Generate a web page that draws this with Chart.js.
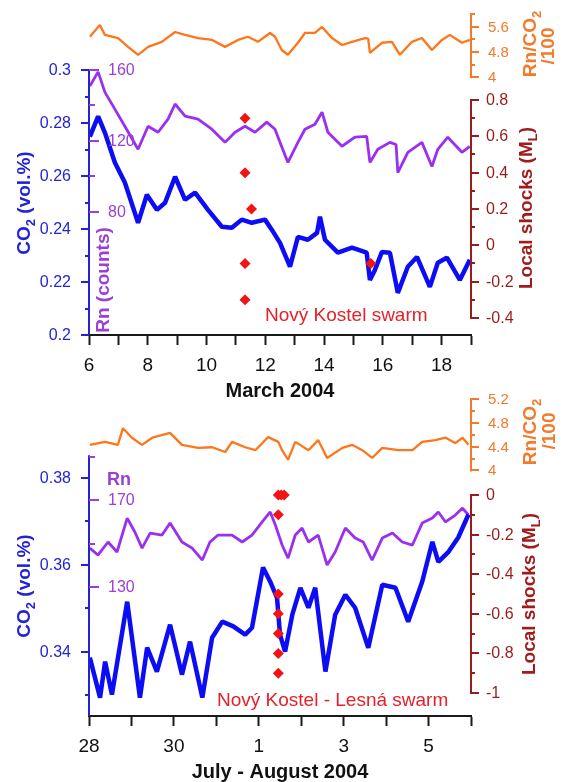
<!DOCTYPE html>
<html>
<head>
<meta charset="utf-8">
<script src="https://cdn.jsdelivr.net/npm/chart.js@4.4.1/dist/chart.umd.min.js"></script>
<style>
html, body { margin: 0; padding: 0; background: #fff; }
#wrap { position: relative; width: 569px; height: 782px; }
#wrap canvas { position: absolute; left: 0; top: 0; }
</style>
</head>
<body>
<div id="wrap">
  <canvas id="chart-march" width="569" height="782"></canvas>
  <canvas id="chart-july" width="569" height="782"></canvas>
</div>
<script>
// ── March 2004 panel (x = day of March) ───────────────────────────
const marRatioDays = [6.03, 6.37, 6.54, 6.99, 7.33, 7.67, 8.01, 8.48, 8.93, 9.27, 9.71, 10.19, 10.63, 11.07, 11.41, 11.75, 12.16, 12.33, 12.56, 12.77, 13.11, 13.35, 13.69, 13.93, 14.27, 14.61, 14.95, 15.39, 15.5, 15.56, 15.97, 16.31, 16.58, 16.99, 17.33, 17.67, 18.01, 18.28, 18.69, 18.96];
const marRatioVals = [5.28, 5.65, 5.34, 5.24, 4.96, 4.71, 4.96, 5.12, 5.43, 5.34, 5.24, 5.18, 4.96, 5.18, 5.28, 5.12, 5.40, 5.28, 4.86, 4.71, 5.09, 5.40, 5.40, 5.59, 5.24, 5.02, 5.12, 5.24, 5.22, 4.77, 5.09, 5.12, 4.71, 5.12, 5.24, 4.86, 5.18, 5.34, 5.09, 5.18];

const marRnDays = [6.03, 6.31, 6.54, 6.88, 7.22, 7.67, 8.01, 8.35, 8.69, 8.93, 9.27, 9.71, 10.18, 10.63, 10.97, 11.31, 11.65, 12.05, 12.33, 12.50, 12.77, 13.11, 13.35, 13.69, 13.93, 14.13, 14.61, 15.05, 15.45, 15.56, 15.83, 16.24, 16.45, 16.51, 16.85, 17.33, 17.67, 17.87, 18.21, 18.69, 18.96];
const marRnVals = [150.9, 158.9, 147.5, 137.9, 128.3, 115.3, 128.3, 124.9, 132.3, 140.8, 134.0, 132.3, 126.6, 119.2, 124.9, 128.3, 124.9, 130.6, 126.6, 119.2, 107.9, 119.2, 126.6, 129.4, 136.2, 124.9, 117.0, 122.1, 122.6, 107.9, 115.3, 119.2, 118.0, 102.2, 113.6, 119.2, 105.6, 115.3, 122.1, 113.6, 117.0];

const marCo2Days = [6.03, 6.31, 6.54, 6.88, 7.22, 7.67, 7.97, 8.31, 8.59, 8.93, 9.27, 9.61, 10.05, 10.52, 10.86, 11.20, 11.54, 11.99, 12.22, 12.50, 12.84, 13.11, 13.45, 13.76, 13.86, 14.03, 14.47, 14.95, 15.45, 15.56, 15.73, 15.97, 16.24, 16.51, 16.85, 17.16, 17.60, 17.87, 18.18, 18.62, 18.96];
const marCo2Vals = [0.2750, 0.2826, 0.2765, 0.2652, 0.2576, 0.2424, 0.2530, 0.2473, 0.2500, 0.2598, 0.2511, 0.2538, 0.2473, 0.2409, 0.2405, 0.2436, 0.2424, 0.2436, 0.2398, 0.2348, 0.2258, 0.2371, 0.2360, 0.2386, 0.2447, 0.2360, 0.2311, 0.2330, 0.2311, 0.2208, 0.2246, 0.2314, 0.2311, 0.2159, 0.2258, 0.2295, 0.2182, 0.2273, 0.2292, 0.2208, 0.2284];

const marShockDays = [11.31, 11.31, 11.53, 11.31, 11.31, 15.59];
const marShockVals = [0.7, 0.4, 0.2, -0.1, -0.3, -0.1];

const marXTicks = [6, 7, 8, 9, 10, 11, 12, 13, 14, 15, 16, 17, 18, 19];
const marXLabels = ['6', '', '8', '', '10', '', '12', '', '14', '', '16', '', '18', ''];
const marCo2Ticks = [0.2, 0.21, 0.22, 0.23, 0.24, 0.25, 0.26, 0.27, 0.28, 0.29, 0.3];
const marCo2Labels = ['0.2', '', '0.22', '', '0.24', '', '0.26', '', '0.28', '', '0.3'];
const marRnTicks = [80, 100, 120, 140, 160];
const marRnLabels = ['80', '', '120', '', '160'];
const marShockTicks = [-0.4, -0.3, -0.2, -0.1, 0, 0.1, 0.2, 0.3, 0.4, 0.5, 0.6, 0.7, 0.8];
const marShockLabels = ['-0.4', '', '-0.2', '', '0', '', '0.2', '', '0.4', '', '0.6', '', '0.8'];
const marRatioTicks = [4, 4.4, 4.8, 5.2, 5.6, 6];
const marRatioLabels = ['4', '', '4.8', '', '5.6', ''];

// ── July–August 2004 panel (x = days since 28 July) ──────────────
const julRatioDays = [0.02, 0.38, 0.68, 0.80, 1.01, 1.25, 1.49, 1.91, 2.19, 2.57, 2.90, 3.21, 3.37, 3.68, 3.92, 4.22, 4.46, 4.55, 4.69, 4.86, 5.17, 5.40, 5.61, 5.97, 6.20, 6.44, 6.67, 6.91, 7.29, 7.62, 7.85, 8.16, 8.40, 8.63, 8.80, 8.94];
const julRatioVals = [4.43, 4.48, 4.43, 4.71, 4.55, 4.43, 4.55, 4.63, 4.43, 4.38, 4.39, 4.31, 4.48, 4.39, 4.34, 4.56, 4.48, 4.34, 4.18, 4.48, 4.34, 4.51, 4.21, 4.38, 4.43, 4.34, 4.21, 4.38, 4.34, 4.34, 4.48, 4.51, 4.55, 4.46, 4.55, 4.43];

const julRnDays = [0.02, 0.21, 0.45, 0.66, 0.90, 1.08, 1.25, 1.44, 1.72, 1.91, 2.19, 2.43, 2.67, 2.85, 3.04, 3.37, 3.61, 3.84, 4.08, 4.27, 4.39, 4.55, 4.69, 4.86, 5.02, 5.17, 5.40, 5.61, 5.80, 6.04, 6.27, 6.46, 6.67, 6.91, 7.15, 7.38, 7.62, 7.85, 8.09, 8.23, 8.40, 8.63, 8.80, 8.94];
const julRnVals = [147.9, 144.7, 150.7, 146.1, 161.7, 155.3, 147.9, 154.8, 153.9, 159.4, 150.7, 147.9, 142.4, 150.7, 153.9, 153.9, 150.7, 153.9, 159.9, 164.5, 158.5, 149.3, 143.3, 153.9, 157.1, 150.7, 153.9, 140.1, 146.1, 157.1, 152.5, 150.7, 142.4, 152.5, 154.8, 150.7, 149.3, 159.4, 161.7, 164.5, 159.9, 163.1, 166.3, 163.1];

const julCo2Days = [0.02, 0.26, 0.38, 0.54, 0.90, 1.20, 1.37, 1.60, 1.91, 2.19, 2.38, 2.67, 2.90, 3.14, 3.40, 3.68, 3.84, 4.10, 4.27, 4.43, 4.50, 4.62, 4.79, 4.98, 5.17, 5.33, 5.57, 5.80, 6.04, 6.27, 6.58, 6.91, 7.22, 7.52, 7.85, 8.09, 8.23, 8.47, 8.70, 8.94];
const julCo2Vals = [0.3386, 0.3294, 0.3377, 0.3301, 0.3515, 0.3294, 0.3409, 0.3354, 0.3462, 0.3347, 0.3423, 0.3294, 0.3432, 0.3469, 0.3458, 0.3439, 0.3455, 0.3594, 0.3561, 0.3524, 0.3439, 0.3400, 0.3485, 0.3547, 0.3501, 0.3547, 0.3354, 0.3485, 0.3531, 0.3501, 0.3409, 0.3554, 0.3547, 0.3469, 0.3561, 0.3653, 0.3607, 0.3630, 0.3663, 0.3716];

const julShockDays = [4.46, 4.53, 4.60, 4.46, 4.46, 4.46, 4.46, 4.46, 4.46];
const julShockVals = [0, 0, 0, -0.1, -0.5, -0.6, -0.7, -0.8, -0.9];

const julXTicks = [0, 1, 2, 3, 4, 5, 6, 7, 8, 9];
const julXLabels = ['28', '', '30', '', '1', '', '3', '', '5', ''];
const julCo2Ticks = [0.33, 0.34, 0.35, 0.36, 0.37, 0.38];
const julCo2Labels = ['', '0.34', '', '0.36', '', '0.38'];
const julRnTicks = [130, 150, 170, 190];
const julRnLabels = ['130', '', '170', ''];
const julShockTicks = [-1, -0.9, -0.8, -0.7, -0.6, -0.5, -0.4, -0.3, -0.2, -0.1, 0];
const julShockLabels = ['-1', '', '-0.8', '', '-0.6', '', '-0.4', '', '-0.2', '', '0'];
const julRatioTicks = [4, 4.2, 4.4, 4.6, 4.8, 5.0, 5.2];
const julRatioLabels = ['4', '', '4.4', '', '4.8', '', '5.2'];

// ── Styles ────────────────────────────────────────────────────────
const FONT = "'Liberation Sans', Arial, sans-serif";
const C = {
    co2: '#0c0cf5', co2Axis: '#2323d6',
    rn: '#9a2ff2', rnAxis: '#9a3fd8',
    ratio: '#ff761a', ratioAxis: '#f27a2a',
    shockAxis: '#981c1c', diamond: '#f21414', note: '#e5202a',
};
Chart.defaults.font.family = FONT;

const pts = (xs, ys) => xs.map((x, i) => ({ x, y: ys[i] }));

function lineSet(data, axis, color, width) {
    return {
        type: 'line', data, yAxisID: axis, borderColor: color, borderWidth: width,
        pointRadius: 0, tension: 0, borderJoinStyle: 'bevel', fill: false,
    };
}
function diamondSet(data) {
    return {
        type: 'line', data, yAxisID: 'ySh', showLine: false,
        pointStyle: 'rectRot', pointRadius: 5.5, pointBackgroundColor: C.diamond,
        pointBorderWidth: 0, pointBorderColor: C.diamond,
    };
}

// Draw a string made of normal/subscript parts, centred (or left aligned) at cx,cy
function drawRich(ctx, parts, cx, cy, rot, size, color, weight, align) {
    ctx.save();
    ctx.translate(cx, cy);
    ctx.rotate(rot);
    const fonts = parts.map(p => `${weight} ${p.sub ? Math.round(size * 0.68) : size}px ${FONT}`);
    let w = 0;
    parts.forEach((p, i) => { ctx.font = fonts[i]; w += ctx.measureText(p.t).width; });
    let x = align === 'left' ? 0 : -w / 2;
    ctx.fillStyle = color;
    ctx.textAlign = 'left';
    ctx.textBaseline = 'middle';
    parts.forEach((p, i) => {
        ctx.font = fonts[i];
        ctx.fillText(p.t, x, p.sub ? size * 0.32 : 0);
        x += ctx.measureText(p.t).width;
    });
    ctx.restore();
}

// y axes are drawn here from the hidden Chart.js scales
function decorPlugin(axes, titles) {
    return {
        id: 'decor',
        afterDraw(chart) {
            const ctx = chart.ctx;
            const area = chart.chartArea;
            axes.forEach(a => {
                const sc = chart.scales[a.id];
                const x = a.side === 'left' ? area.left : area.right;
                const dir = a.dir;
                ctx.save();
                ctx.strokeStyle = a.color;
                ctx.lineWidth = 2;
                if (a.line) {
                    const y0 = a.line[0] === null ? area.bottom : sc.getPixelForValue(a.line[0]);
                    const y1 = sc.getPixelForValue(a.line[1]);
                    ctx.beginPath();
                    ctx.moveTo(x, y0 + (a.line[0] === null ? 0 : 1));
                    ctx.lineTo(x, y1 - 1);
                    ctx.stroke();
                }
                ctx.font = `${a.size}px ${FONT}`;
                ctx.fillStyle = a.labelColor;
                ctx.textAlign = dir < 0 ? 'right' : 'left';
                ctx.textBaseline = 'middle';
                a.ticks.forEach((v, i) => {
                    const y = Math.round(sc.getPixelForValue(v));
                    const lab = a.labels[i];
                    const len = lab ? a.major : a.minor;
                    ctx.beginPath();
                    ctx.moveTo(x, y);
                    ctx.lineTo(x + dir * len, y);
                    ctx.stroke();
                    if (lab) ctx.fillText(lab, x + dir * a.gap, y + 1);
                });
                ctx.restore();
            });
            titles.forEach(t => drawRich(ctx, t.parts, t.x, t.y, t.rot || 0, t.size, t.color, t.weight || 'bold', t.align));
        },
    };
}

function xAxis(min, max, ticks, labels, title, height) {
    return {
        type: 'linear', position: 'bottom', min, max,
        afterBuildTicks: s => { s.ticks = ticks.map(v => ({ value: v })); },
        afterFit: s => { s.height = height; },
        ticks: {
            autoSkip: false, maxRotation: 0, padding: 9, color: '#111',
            font: { size: 19 },
            callback: (v, i) => labels[i],
        },
        grid: { drawOnChartArea: false, drawTicks: true, tickLength: 10, tickWidth: 2, tickColor: '#1a1a1a' },
        border: { display: true, color: '#1a1a1a', width: 2 },
        title: { display: true, text: title, color: '#111', font: { size: 20, weight: 'bold' }, padding: 0 },
    };
}
const hiddenY = (min, max) => ({ type: 'linear', display: false, min, max });

const baseOpts = {
    responsive: false,
    animation: false,
    events: [],
    plugins: { legend: { display: false }, tooltip: { enabled: false } },
};

// ── March chart ──────────────────────────────────────────────────
new Chart(document.getElementById('chart-march'), {
    type: 'line',
    data: {
        datasets: [
            diamondSet(pts(marShockDays, marShockVals)),
            lineSet(pts(marCo2Days, marCo2Vals), 'yCo2', C.co2, 4.5),
            lineSet(pts(marRnDays, marRnVals), 'yRn', C.rn, 2.8),
            lineSet(pts(marRatioDays, marRatioVals), 'yOr', C.ratio, 2.3),
        ],
    },
    options: {
        ...baseOpts,
        layout: { padding: { left: 89, right: 98, top: 14, bottom: 379 } },
        scales: {
            x: xAxis(6, 19, marXTicks, marXLabels, 'March 2004', 68),
            yCo2: hiddenY(0.2, 0.3213),
            yRn: hiddenY(10.7, 191.5),
            ySh: hiddenY(-0.4936, 1.2733),
            yOr: hiddenY(-4.155, 6.0),
        },
    },
    plugins: [decorPlugin([
        { id: 'yCo2', side: 'left', dir: -1, color: C.co2Axis, labelColor: C.co2Axis, size: 16, gap: 18, major: 8, minor: 4, line: [null, 0.3], ticks: marCo2Ticks, labels: marCo2Labels },
        { id: 'yRn', side: 'left', dir: 1, color: C.rnAxis, labelColor: C.rnAxis, size: 16, gap: 19, major: 10, minor: 6, line: null, ticks: marRnTicks, labels: marRnLabels },
        { id: 'ySh', side: 'right', dir: 1, color: C.shockAxis, labelColor: C.shockAxis, size: 16, gap: 15, major: 8, minor: 4, line: [-0.4, 0.8], ticks: marShockTicks, labels: marShockLabels },
        { id: 'yOr', side: 'right', dir: 1, color: C.ratioAxis, labelColor: C.ratioAxis, size: 15, gap: 17, major: 8, minor: 4, line: [4, 6], ticks: marRatioTicks, labels: marRatioLabels },
    ], [
        { parts: [{ t: 'CO' }, { t: '2', sub: true }, { t: ' (vol.%)' }], x: 25, y: 203, rot: -Math.PI / 2, size: 19, color: C.co2Axis },
        { parts: [{ t: 'Rn (counts)' }], x: 104, y: 280, rot: -Math.PI / 2, size: 19, color: C.rnAxis },
        { parts: [{ t: 'Local shocks (M' }, { t: 'L', sub: true }, { t: ')' }], x: 527, y: 208, rot: -Math.PI / 2, size: 19, color: '#a01c1c' },
        { parts: [{ t: 'Rn/CO' }, { t: '2', sub: true }], x: 531, y: 44, rot: -Math.PI / 2, size: 19, color: C.ratioAxis },
        { parts: [{ t: '/100' }], x: 549, y: 46, rot: -Math.PI / 2, size: 19, color: C.ratioAxis },
        { parts: [{ t: 'Nový Kostel swarm' }], x: 265, y: 316, size: 19, color: C.note, weight: 'normal', align: 'left' },
    ])],
});

// ── July–August chart ────────────────────────────────────────────
new Chart(document.getElementById('chart-july'), {
    type: 'line',
    data: {
        datasets: [
            diamondSet(pts(julShockDays, julShockVals)),
            lineSet(pts(julCo2Days, julCo2Vals), 'yCo2', C.co2, 4.5),
            lineSet(pts(julRnDays, julRnVals), 'yRn', C.rn, 2.8),
            lineSet(pts(julRatioDays, julRatioVals), 'yOr', C.ratio, 2.3),
        ],
    },
    options: {
        ...baseOpts,
        layout: { padding: { left: 89, right: 98, top: 393, bottom: -2 } },
        scales: {
            x: xAxis(0, 9, julXTicks, julXLabels, 'July - August 2004', 68),
            yCo2: hiddenY(0.32516, 0.39959),
            yRn: hiddenY(70.7, 219.2),
            ySh: hiddenY(-1.116, 0.515),
            yOr: hiddenY(-0.119, 5.30),
        },
    },
    plugins: [decorPlugin([
        { id: 'yCo2', side: 'left', dir: -1, color: C.co2Axis, labelColor: C.co2Axis, size: 16, gap: 18, major: 8, minor: 4, line: [null, 0.385], ticks: julCo2Ticks, labels: julCo2Labels },
        { id: 'yRn', side: 'left', dir: 1, color: C.rnAxis, labelColor: C.rnAxis, size: 16, gap: 19, major: 10, minor: 6, line: null, ticks: julRnTicks, labels: julRnLabels },
        { id: 'ySh', side: 'right', dir: 1, color: C.shockAxis, labelColor: C.shockAxis, size: 16, gap: 15, major: 8, minor: 4, line: [-1, 0], ticks: julShockTicks, labels: julShockLabels },
        { id: 'yOr', side: 'right', dir: 1, color: C.ratioAxis, labelColor: C.ratioAxis, size: 15, gap: 17, major: 8, minor: 4, line: [4, 5.2], ticks: julRatioTicks, labels: julRatioLabels },
    ], [
        { parts: [{ t: 'CO' }, { t: '2', sub: true }, { t: ' (vol.%)' }], x: 25, y: 586, rot: -Math.PI / 2, size: 19, color: C.co2Axis },
        { parts: [{ t: 'Rn' }], x: 107, y: 480, size: 18, color: C.rnAxis, align: 'left' },
        { parts: [{ t: 'Local shocks (M' }, { t: 'L', sub: true }, { t: ')' }], x: 530, y: 594, rot: -Math.PI / 2, size: 19, color: '#a01c1c' },
        { parts: [{ t: 'Rn/CO' }, { t: '2', sub: true }], x: 531, y: 432, rot: -Math.PI / 2, size: 19, color: C.ratioAxis },
        { parts: [{ t: '/100' }], x: 550, y: 431, rot: -Math.PI / 2, size: 19, color: C.ratioAxis },
        { parts: [{ t: 'Nový Kostel - Lesná swarm' }], x: 217, y: 701, size: 19, color: C.note, weight: 'normal', align: 'left' },
    ])],
});
</script>
</body>
</html>
